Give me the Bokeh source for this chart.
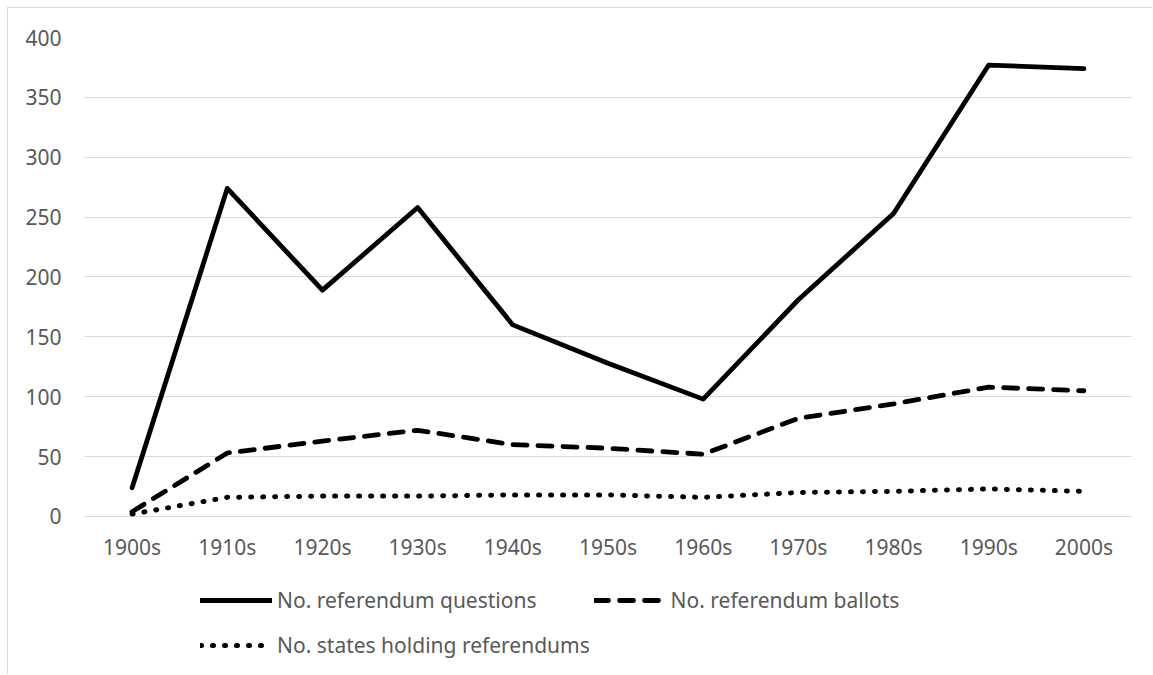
from bokeh.plotting import figure
from bokeh.models import FactorRange, Range1d, Legend, LegendItem, FixedTicker
from bokeh.core.properties import value
from bokeh.embed import file_html
from bokeh.resources import INLINE

decades = ["1900s", "1910s", "1920s", "1930s", "1940s", "1950s", "1960s", "1970s", "1980s", "1990s", "2000s"]
questions = [24, 274, 189, 258, 160, 128, 98, 181, 253, 377, 374]
ballots = [4, 53, 63, 72, 60, 57, 52, 82, 94, 108, 105]
states = [2, 16, 17, 17, 18, 18, 16, 20, 21, 23, 21]
y_ticks = [0, 50, 100, 150, 200, 250, 300, 350, 400]
names = ["No. referendum questions", "No. referendum ballots", "No. states holding referendums"]

FONT = "Noto Sans"
GREY = "#595959"
FS = "21px"

# frame extends below the zero line so the legend can sit inside it
p = figure(x_range=FactorRange(*decades), y_range=Range1d(-132.8, 400),
           width=1145, height=667, output_backend="svg", toolbar_location=None,
           x_axis_location=None,
           min_border_left=76, min_border_right=22, min_border_top=29, min_border_bottom=0)
p.styles = {"margin-left": "7px", "margin-top": "7px",
            "border-left": "1px solid #d9d9d9", "border-top": "1px solid #d9d9d9"}
p.outline_line_color = None
p.xgrid.grid_line_color = None
p.ygrid.grid_line_color = "#d9d9d9"
p.ygrid.grid_line_width = 1
p.yaxis.ticker = FixedTicker(ticks=y_ticks)
ax = p.yaxis[0]
ax.axis_line_color = None
ax.major_tick_line_color = None
ax.minor_tick_line_color = None
ax.major_label_text_font = FONT
ax.major_label_text_font_size = FS
ax.major_label_text_color = GREY
ax.major_label_standoff = 17

# category labels under the zero line
p.text(x=decades, y=[0] * len(decades), text=decades, y_offset=31,
       text_align="center", text_baseline="middle", text_font=value(FONT),
       text_font_size=FS, text_color=GREY)

r1 = p.line(decades, questions, line_color="black", line_width=4.8, line_join="round", line_cap="round")
r2 = p.line(decades, ballots, line_color="black", line_width=4.8, line_dash="14 11", line_join="round", line_cap="round")
r3 = p.line(decades, states, line_color="black", line_width=5, line_dash="1 11", line_join="round", line_cap="round")

common = dict(padding=0, margin=0, border_line_color=None, background_fill_alpha=0,
              glyph_width=72, glyph_height=20, label_standoff=5,
              label_text_font=FONT, label_text_font_size=FS,
              label_text_color=GREY, label_height=20)
legend1 = Legend(items=[LegendItem(label=names[0], renderers=[r1]),
                        LegendItem(label=names[1], renderers=[r2])],
                 orientation="horizontal", spacing=57, location=(116, 61), **common)
legend2 = Legend(items=[LegendItem(label=names[2], renderers=[r3])],
                 location=(116, 16), **common)
p.add_layout(legend1, "center")
p.add_layout(legend2, "center")

open("out.html", "w").write(file_html(p, INLINE))
